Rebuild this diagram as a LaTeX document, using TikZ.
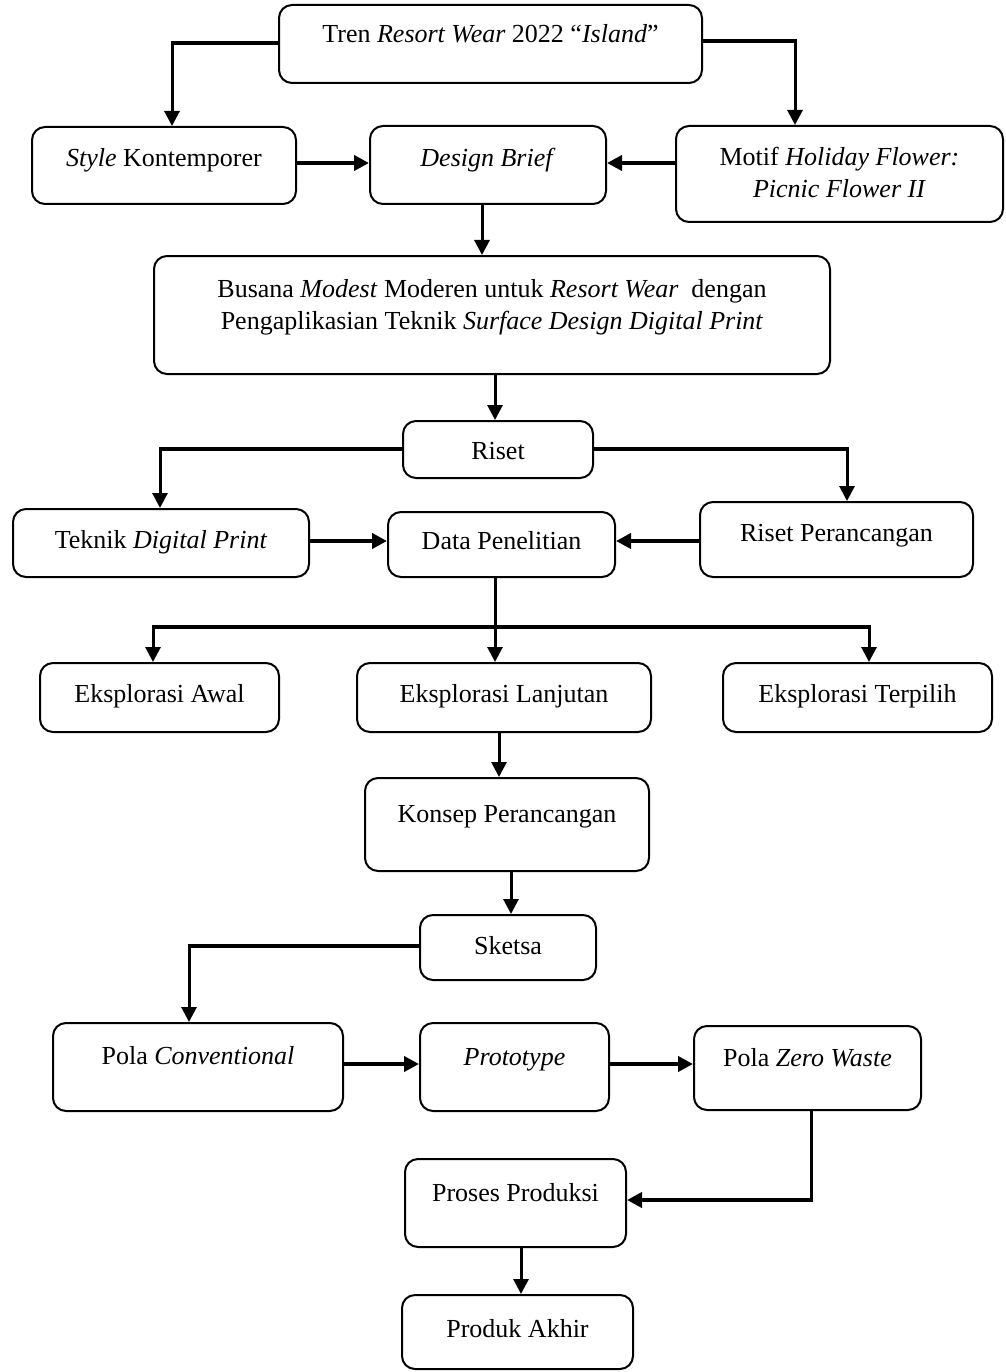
\documentclass[tikz,border=0pt]{standalone}
\usepackage{fontspec}
\setmainfont{Liberation Serif}
\usetikzlibrary{arrows.meta,fit}
\begin{document}
\begin{tikzpicture}[x=1pt,y=-1pt,
  fbox/.style={draw, line width=2pt, rounded corners=13pt, inner sep=0pt},
  lbl/.style={font=\fontsize{26}{32}\selectfont, inner sep=0pt, anchor=base, align=center},
  thinln/.style={line width=3pt},
  thickln/.style={line width=4.5pt},
  arr/.style={-{Triangle[length=15pt,width=15pt]}},
]
\useasboundingbox (0,0) rectangle (1005,1372);

% boxes
\node[fbox, fit={(279,5) (702,83)}] (tren) {};
\node[fbox, fit={(32,127) (296,204)}] (style) {};
\node[fbox, fit={(370,126) (606,204)}] (design) {};
\node[fbox, fit={(676,126) (1003,222)}] (motif) {};
\node[fbox, fit={(154,256) (830,374)}] (busana) {};
\node[fbox, fit={(403,421) (593,478)}] (riset) {};
\node[fbox, fit={(13,509) (309,577)}] (teknik) {};
\node[fbox, fit={(388,512) (615,577)}] (data) {};
\node[fbox, fit={(700,502) (973,577)}] (peranc) {};
\node[fbox, fit={(40,663) (279,732)}] (awal) {};
\node[fbox, fit={(357,663) (651,732)}] (lanjut) {};
\node[fbox, fit={(723,663) (992,732)}] (terpilih) {};
\node[fbox, fit={(365,778) (649,871)}] (konsep) {};
\node[fbox, fit={(420,915) (596,980)}] (sketsa) {};
\node[fbox, fit={(53,1023) (343,1111)}] (conv) {};
\node[fbox, fit={(420,1023) (609,1111)}] (proto) {};
\node[fbox, fit={(694,1026) (921,1110)}] (zero) {};
\node[fbox, fit={(405,1159) (626,1247)}] (proses) {};
\node[fbox, fit={(402,1295) (633,1369)}] (produk) {};

% texts (base anchor = baseline of the last line)
\node[lbl] (trent) at (tren.center |- 0,43) {Tren \textit{Resort Wear} 2022 “\textit{Island}”};
\node[lbl] (stylet) at (style.center |- 0,167) {\textit{Style} Kontemporer};
\node[lbl] (designt) at (design.center |- 0,167) {\textit{Design Brief}};
\node[lbl] (motift) at (motif.center |- 0,198) {Motif \textit{Holiday Flower:}\\\textit{Picnic Flower II}};
\node[lbl] (busanat) at (busana.center |- 0,329) {Busana \textit{Modest} Moderen untuk \textit{Resort Wear}\ \ dengan\\Pengaplikasian Teknik \textit{Surface Design Digital Print}};
\node[lbl] (risett) at (riset.center |- 0,459) {Riset};
\node[lbl] (teknikt) at (teknik.center |- 0,548) {Teknik \textit{Digital Print}};
\node[lbl] (datat) at (data.center |- 0,549) {Data Penelitian};
\node[lbl] (peranct) at (peranc.center |- 0,541) {Riset Perancangan};
\node[lbl] (awalt) at (awal.center |- 0,702) {Eksplorasi Awal};
\node[lbl] (lanjutt) at (lanjut.center |- 0,702) {Eksplorasi Lanjutan};
\node[lbl] (terpiliht) at (terpilih.center |- 0,702) {Eksplorasi Terpilih};
\node[lbl] (konsept) at (konsep.center |- 0,822) {Konsep Perancangan};
\node[lbl] (sketsat) at (sketsa.center |- 0,954) {Sketsa};
\node[lbl] (convt) at (conv.center |- 0,1064) {Pola \textit{Conventional}};
\node[lbl] (protot) at (proto.center |- 0,1065) {\textit{Prototype}};
\node[lbl] (zerot) at (zero.center |- 0,1066) {Pola \textit{Zero Waste}};
\node[lbl] (prosest) at (proses.center |- 0,1201) {Proses Produksi};
\node[lbl] (produkt) at (produk.center |- 0,1337) {Produk Akhir};

% elbow points
\coordinate (c1) at (172,43);
\coordinate (c2) at (795,41);
\coordinate (c3) at (160,449);
\coordinate (c4) at (847,449);
\coordinate (c5) at (495,627);
\coordinate (cL) at (153,627);
\coordinate (cR) at (869,627);
\coordinate (c6) at (189,946);
\coordinate (c7) at (811,1200);

% connectors
\draw[thickln] (tren.west |- c1) -- ([xshift=-1.5pt]c1);
\draw[thinln,arr] ([yshift=2.2pt]c1) -- (c1 |- style.north);
\draw[thickln] (tren.east |- c2) -- ([xshift=1.5pt]c2);
\draw[thinln,arr] ([yshift=2.2pt]c2) -- (c2 |- motif.north);
\draw[thickln,arr] (style.east |- 0,163) -- (design.west |- 0,163);
\draw[thickln,arr] (motif.west |- 0,163) -- (design.east |- 0,163);
\draw[thinln,arr] (design.south -| 482,0) -- (busana.north -| 482,0);
\draw[thinln,arr] (busana.south -| 495,0) -- (riset.north -| 495,0);
\draw[thickln] (riset.west |- c3) -- ([xshift=-1.5pt]c3);
\draw[thinln,arr] ([yshift=2.2pt]c3) -- (c3 |- teknik.north);
\draw[thickln] (riset.east |- c4) -- ([xshift=1.5pt]c4);
\draw[thinln,arr] ([yshift=2.2pt]c4) -- (c4 |- peranc.north);
\draw[thickln,arr] (teknik.east |- 0,541) -- (data.west |- 0,541);
\draw[thickln,arr] (peranc.west |- 0,541) -- (data.east |- 0,541);
\draw[thinln] (data.south -| c5) -- (c5);
\draw[thickln] ([xshift=-1.5pt]cL) -- ([xshift=1.5pt]cR);
\draw[thinln,arr] ([yshift=2.2pt]cL) -- (cL |- awal.north);
\draw[thinln,arr] ([yshift=2.2pt]c5) -- (c5 |- lanjut.north);
\draw[thinln,arr] ([yshift=2.2pt]cR) -- (cR |- terpilih.north);
\draw[thinln,arr] (lanjut.south -| 499,0) -- (konsep.north -| 499,0);
\draw[thinln,arr] (konsep.south -| 511,0) -- (sketsa.north -| 511,0);
\draw[thickln] (sketsa.west |- c6) -- ([xshift=-1.5pt]c6);
\draw[thinln,arr] ([yshift=2.2pt]c6) -- (c6 |- conv.north);
\draw[thickln,arr] (conv.east |- 0,1064) -- (proto.west |- 0,1064);
\draw[thickln,arr] (proto.east |- 0,1064) -- (zero.west |- 0,1064);
\draw[thinln] (zero.south -| c7) -- ([yshift=-2.2pt]c7);
\draw[thickln,arr] ([xshift=1.5pt]c7) -- (proses.east |- c7);
\draw[thinln,arr] (proses.south -| 521,0) -- (produk.north -| 521,0);
\end{tikzpicture}
\end{document}
